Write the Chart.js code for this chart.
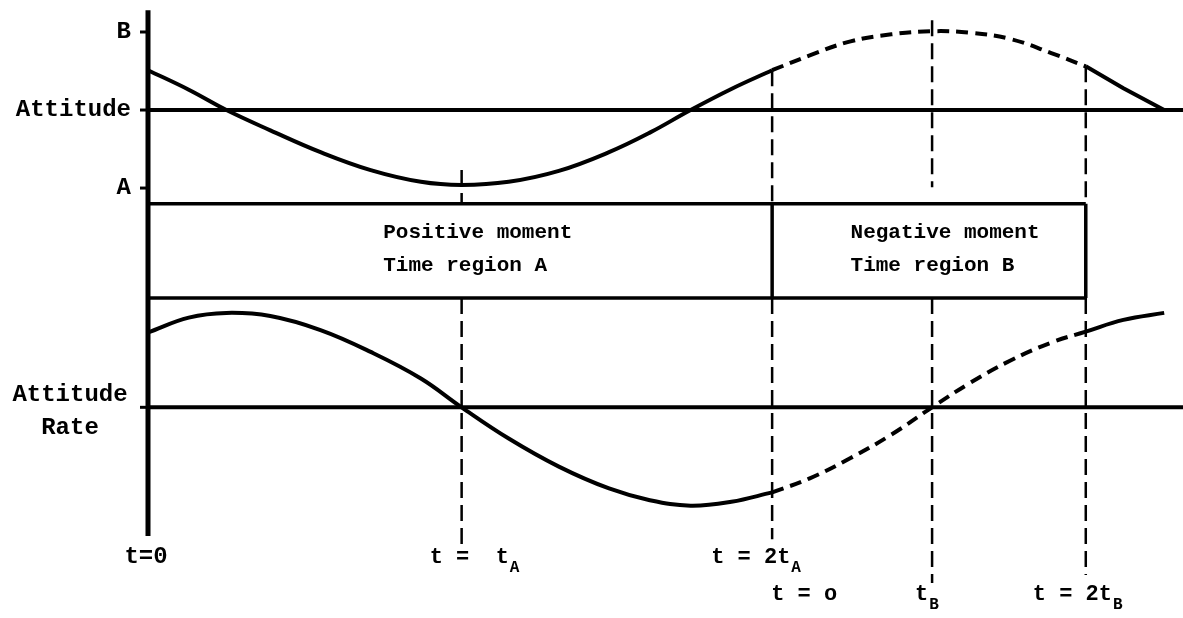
<!DOCTYPE html>
<html><head><meta charset="utf-8">
<script src="https://cdn.jsdelivr.net/npm/chart.js@4"></script>
<style>html,body{margin:0;padding:0;background:#fff;}canvas{display:block;}</style>
</head><body>
<canvas id="c" width="1183" height="618"></canvas>
<script>
// ---- time marks (units of t_A) ----
const T_A = 1.0, T_2A = 1.99, T_B = 2.50, T_2B = 2.99, T_MAX = 3.3;
// ---- levels ----
const B_LEVEL = 1, ATT_ZERO = 0, A_LEVEL = -1;
const RATE_ZERO = -3.81, BOX_TOP = -1.2, BOX_BOTTOM = -2.41;
const Y_MAX = 1.41, Y_MIN = -6.51;

// ---- attitude curve (relative to attitude line) ----
const tSolid1 = [0, 0.13, 0.25, 0.39, 0.55, 0.71, 0.87, 1.00, 1.15, 1.31, 1.47, 1.60, 1.73, 1.86, 1.99];
const attSolid1 = [0.51, 0.26, 0, -0.26, -0.54, -0.77, -0.92, -0.96, -0.92, -0.78, -0.54, -0.29, 0, 0.27, 0.51];
const tDashed = [1.99, 2.11, 2.24, 2.37, 2.50, 2.62, 2.75, 2.88, 2.99];
const attDashed = [0.51, 0.70, 0.88, 0.97, 1.01, 0.99, 0.91, 0.73, 0.56];
const tSolid2 = [2.99, 3.11, 3.24];
const attSolid2 = [0.56, 0.28, 0];

// ---- attitude rate curve (relative to rate line) ----
const rateSolid1 = [0.96, 1.15, 1.21, 1.17, 0.99, 0.71, 0.37, 0, -0.40, -0.76, -1.04, -1.19, -1.26, -1.21, -1.09];
const rateDashed = [-1.09, -0.91, -0.65, -0.35, 0, 0.31, 0.60, 0.83, 0.97];
const rateSolid2 = [0.97, 1.12, 1.21];

// ---- vertical guide segments [t, yFrom, yTo] ----
const guides = [
  [T_A, -0.77, BOX_TOP], [T_A, BOX_BOTTOM, -5.6],
  [T_2A, 0.51, BOX_TOP], [T_2A, BOX_BOTTOM, -5.5],
  [T_B, 1.15, -0.99], [T_B, BOX_BOTTOM, -6.06],
  [T_2B, 0.56, BOX_TOP], [T_2B, BOX_BOTTOM, -5.96]
];

// ---- texts ----
const leftLabels = ['B', 'Attitude', 'A'];
const leftLevels = [B_LEVEL, ATT_ZERO, A_LEVEL];
const rateLabel = ['Attitude', 'Rate'];
const boxLines = [['Positive moment', 'Time region A'], ['Negative moment', 'Time region B']];
const boxTextT = [0.75, 2.24];
const bottomText = ['t=0', 't =  t', 't = 2t', 't = o', 't', 't = 2t'];
const bottomSub = ['', 'A', 'A', '', 'B', 'B'];
const bottomAt = [0, T_A, T_2A, T_2A, T_B, T_2B];
const bottomRow = [0, 0, 0, 1, 1, 1];

const FONT = '"Liberation Mono", "DejaVu Sans Mono", monospace';
const BLACK = '#000';

function pts(xs, ys, off) { return xs.map((x, i) => ({x: x, y: ys[i] + off})); }
function line(data, width, dash, tension) {
  return {data: data, borderColor: BLACK, backgroundColor: BLACK, borderWidth: width,
    borderDash: dash || [], tension: tension || 0, fill: false, pointRadius: 0, clip: false,
    borderCapStyle: 'butt'};
}

const datasets = [
  // axis
  line([{x: 0, y: 1.28}, {x: 0, y: -5.46}], 5),
  // baselines
  line([{x: 0, y: ATT_ZERO}, {x: T_MAX, y: ATT_ZERO}], 4),
  line([{x: 0, y: RATE_ZERO}, {x: T_MAX, y: RATE_ZERO}], 4),
  // box
  line([{x: 0, y: BOX_TOP}, {x: T_2B, y: BOX_TOP}], 3.5),
  line([{x: 0, y: BOX_BOTTOM}, {x: T_2B, y: BOX_BOTTOM}], 3.5),
  line([{x: T_2A, y: BOX_TOP}, {x: T_2A, y: BOX_BOTTOM}], 3.5),
  line([{x: T_2B, y: BOX_TOP}, {x: T_2B, y: BOX_BOTTOM}], 3.5),
  // attitude curve
  line(pts(tSolid1, attSolid1, ATT_ZERO), 4, [], 0.4),
  line(pts(tDashed, attDashed, ATT_ZERO), 4, [12, 7], 0.4),
  line(pts(tSolid2, attSolid2, ATT_ZERO), 4, [], 0),
  // rate curve
  line(pts(tSolid1, rateSolid1, RATE_ZERO), 4, [], 0.4),
  line(pts(tDashed, rateDashed, RATE_ZERO), 4, [12, 7], 0.4),
  line(pts(tSolid2, rateSolid2, RATE_ZERO), 4, [], 0.4)
];
guides.forEach(g => datasets.push(line([{x: g[0], y: g[1]}, {x: g[0], y: g[2]}], 2.5, [16, 7])));

const textPlugin = {
  id: 'texts',
  beforeDraw(chart) {
    const c = chart.ctx;
    c.save(); c.fillStyle = '#fff'; c.fillRect(0, 0, chart.width, chart.height); c.restore();
  },
  afterDatasetsDraw(chart) {
    const c = chart.ctx, xs = chart.scales.x, ys = chart.scales.y;
    const left = xs.getPixelForValue(0);
    c.save();
    c.fillStyle = BLACK; c.strokeStyle = BLACK;
    // tick stubs
    c.lineWidth = 3;
    [B_LEVEL, ATT_ZERO, A_LEVEL, RATE_ZERO].forEach(v => {
      const y = ys.getPixelForValue(v);
      c.beginPath(); c.moveTo(left - 8, y); c.lineTo(left, y); c.stroke();
    });
    c.textBaseline = 'middle';
    c.font = 'bold 24px ' + FONT;
    c.textAlign = 'right';
    leftLabels.forEach((t, i) => c.fillText(t, left - 17, ys.getPixelForValue(leftLevels[i])));
    c.textAlign = 'center';
    const ry = ys.getPixelForValue(RATE_ZERO);
    c.fillText(rateLabel[0], left - 78, ry - 12);
    c.fillText(rateLabel[1], left - 78, ry + 21);
    // box texts
    c.font = 'bold 21px ' + FONT;
    c.textAlign = 'left';
    const by0 = ys.getPixelForValue(BOX_TOP);
    boxLines.forEach((ls, i) => {
      const x = xs.getPixelForValue(boxTextT[i]);
      c.fillText(ls[0], x, by0 + 29);
      c.fillText(ls[1], x, by0 + 62);
    });
    // bottom labels
    const dx = [-2, -32, -61, -1, -17, -53];
    const rowY = [557, 594];
    bottomText.forEach((t, i) => {
      const x0 = xs.getPixelForValue(bottomAt[i]) + dx[i];
      const y = rowY[bottomRow[i]];
      if (i === 0) {
        c.font = 'bold 24px ' + FONT; c.textAlign = 'center';
        c.fillText(t, x0, y);
        return;
      }
      c.font = 'bold 22px ' + FONT; c.textAlign = 'left';
      c.fillText(t, x0, y);
      const w = c.measureText(t).width;
      if (bottomSub[i]) {
        c.font = 'bold 16px ' + FONT;
        c.fillText(bottomSub[i], x0 + w + 1, y + 11);
      }
    });
    c.restore();
  }
};

new Chart(document.getElementById('c').getContext('2d'), {
  type: 'line',
  data: {datasets: datasets},
  options: {
    responsive: false, animation: false, devicePixelRatio: 1,
    layout: {padding: {left: 148, right: 0, top: 0, bottom: 0}},
    scales: {
      x: {type: 'linear', min: 0, max: T_MAX, display: false},
      y: {type: 'linear', min: Y_MIN, max: Y_MAX, display: false}
    },
    plugins: {legend: {display: false}, tooltip: {enabled: false}},
    elements: {point: {radius: 0}}
  },
  plugins: [textPlugin]
});
</script>
</body></html>
